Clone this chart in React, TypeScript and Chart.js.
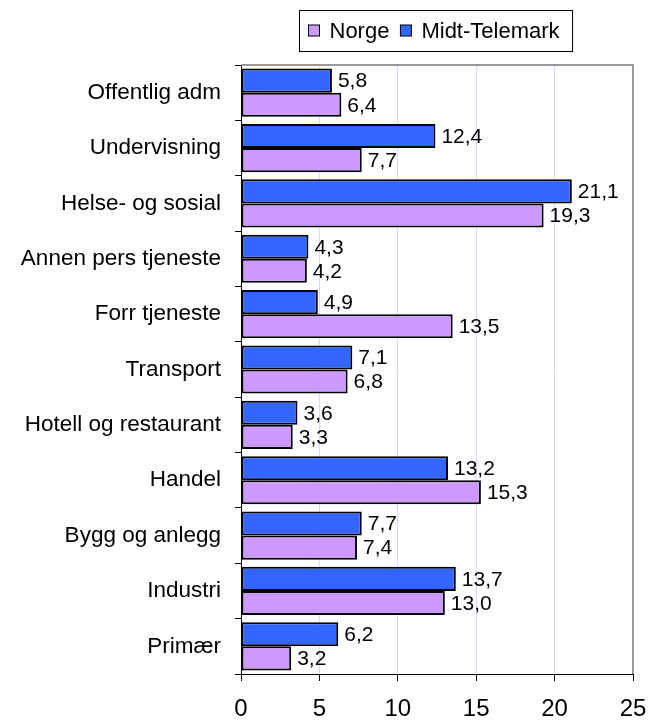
import React, { useEffect, useRef } from "react";
import { Chart, registerables } from "chart.js";

Chart.register(...registerables);

const categories = [
  "Offentlig adm",
  "Undervisning",
  "Helse- og sosial",
  "Annen pers tjeneste",
  "Forr tjeneste",
  "Transport",
  "Hotell og restaurant",
  "Handel",
  "Bygg og anlegg",
  "Industri",
  "Primær",
];
const midtTelemark = [5.8, 12.4, 21.1, 4.3, 4.9, 7.1, 3.6, 13.2, 7.7, 13.7, 6.2];
const norge = [6.4, 7.7, 19.3, 4.2, 13.5, 6.8, 3.3, 15.3, 7.4, 13.0, 3.2];
const xTicks = [0, 5, 10, 15, 20, 25];

const FONT = '"Liberation Sans", Arial, sans-serif';
const BLUE = "#3366FF";
const PURPLE = "#CC99FF";

const fmt = (v: number) => v.toFixed(1).replace(".", ",");

const framePlugin = {
  id: "frame",
  beforeDatasetsDraw(chart: any) {
    const { ctx, chartArea } = chart;
    ctx.save();
    ctx.strokeStyle = "#999999";
    ctx.lineWidth = 2;
    ctx.beginPath();
    ctx.moveTo(chartArea.left, chartArea.top);
    ctx.lineTo(chartArea.right, chartArea.top);
    ctx.lineTo(chartArea.right, chartArea.bottom);
    ctx.stroke();
    ctx.restore();
  },
};

const labelPlugin = {
  id: "valueLabels",
  afterDatasetsDraw(chart: any) {
    const { ctx } = chart;
    ctx.save();
    ctx.font = `21px ${FONT}`;
    ctx.fillStyle = "#000";
    ctx.textAlign = "left";
    ctx.textBaseline = "middle";
    chart.data.datasets.forEach((ds: any, di: number) => {
      const meta = chart.getDatasetMeta(di);
      meta.data.forEach((el: any, i: number) => {
        ctx.fillText(fmt(ds.data[i]), el.x + 6, el.y + 1);
      });
    });
    ctx.restore();
  },
};

const legendPlugin = {
  id: "boxLegend",
  afterDraw(chart: any) {
    const { ctx, chartArea } = chart;
    const ds = chart.data.datasets;
    const order = [1, 0];
    ctx.save();
    ctx.font = `22px ${FONT}`;
    const padL = 9, padR = 13, box = 11, gapBT = 10, gapItem = 11;
    const widths = order.map((i) => ctx.measureText(ds[i].label).width);
    const total = padL + padR + order.length * (box + gapBT) + widths.reduce((a, b) => a + b, 0) + gapItem * (order.length - 1);
    const cx = 436;
    const left = Math.round(cx - total / 2) + 0.5;
    const top = 10.5;
    const h = 41;
    ctx.strokeStyle = "#000";
    ctx.lineWidth = 1;
    ctx.fillStyle = "#fff";
    ctx.fillRect(left, top, total, h);
    ctx.strokeRect(left, top, total, h);
    let x = left + padL;
    const cy = top + h / 2;
    order.forEach((i, k) => {
      ctx.fillStyle = ds[i].backgroundColor;
      ctx.fillRect(x, cy - 6, box, box);
      ctx.strokeStyle = "#000";
      ctx.strokeRect(x, cy - 6, box, box);
      ctx.fillStyle = "#000";
      ctx.textAlign = "left";
      ctx.textBaseline = "middle";
      ctx.fillText(ds[i].label, x + box + gapBT, cy + 1);
      x += box + gapBT + widths[k] + gapItem;
    });
    ctx.restore();
  },
};

export default function App() {
  const ref = useRef<HTMLCanvasElement | null>(null);
  useEffect(() => {
    if (!ref.current) return;
    const chart = new Chart(ref.current, {
      type: "bar",
      data: {
        labels: categories,
        datasets: [
          {
            label: "Midt-Telemark",
            data: midtTelemark,
            backgroundColor: BLUE,
            borderColor: "#000",
            borderWidth: 2,
            borderSkipped: false,
            categoryPercentage: 0.87,
            barPercentage: 1,
          },
          {
            label: "Norge",
            data: norge,
            backgroundColor: PURPLE,
            borderColor: "#000",
            borderWidth: 2,
            borderSkipped: false,
            categoryPercentage: 0.87,
            barPercentage: 1,
          },
        ],
      },
      options: {
        indexAxis: "y",
        animation: false,
        responsive: true,
        maintainAspectRatio: false,
        layout: { padding: { top: 65, right: 28, left: 0, bottom: 0 } },
        plugins: {
          legend: { display: false },
          tooltip: { enabled: false },
        },
        scales: {
          x: {
            type: "linear",
            min: 0,
            max: 25,
            afterBuildTicks: (scale: any) => {
              scale.ticks = xTicks.map((v) => ({ value: v }));
            },
            afterFit: (scale: any) => {
              scale.height = 48;
              scale.paddingRight = 0;
              scale.paddingLeft = 0;
            },
            grid: {
              color: "#d8d8ff",
              tickColor: "#000",
              tickLength: 7,
              lineWidth: 1,
            },
            border: { color: "#000", width: 1 },
            ticks: {
              color: "#000",
              font: { family: FONT, size: 24 },
              padding: 14,
              maxRotation: 0,
            },
          },
          y: {
            type: "category",
            afterFit: (scale: any) => {
              scale.width = 241;
            },
            grid: {
              offset: true,
              drawOnChartArea: false,
              tickColor: "#000",
              tickLength: 6,
            },
            border: { color: "#000", width: 1 },
            ticks: {
              color: "#000",
              font: { family: FONT, size: 22.5 },
              padding: 14,
            },
          },
        },
      },
      plugins: [framePlugin, labelPlugin, legendPlugin],
    });
    return () => chart.destroy();
  }, []);
  return (
    <div style={{ position: "fixed", left: 0, top: 0, width: 661, height: 722, background: "#fff" }}>
      <canvas ref={ref} />
    </div>
  );
}
